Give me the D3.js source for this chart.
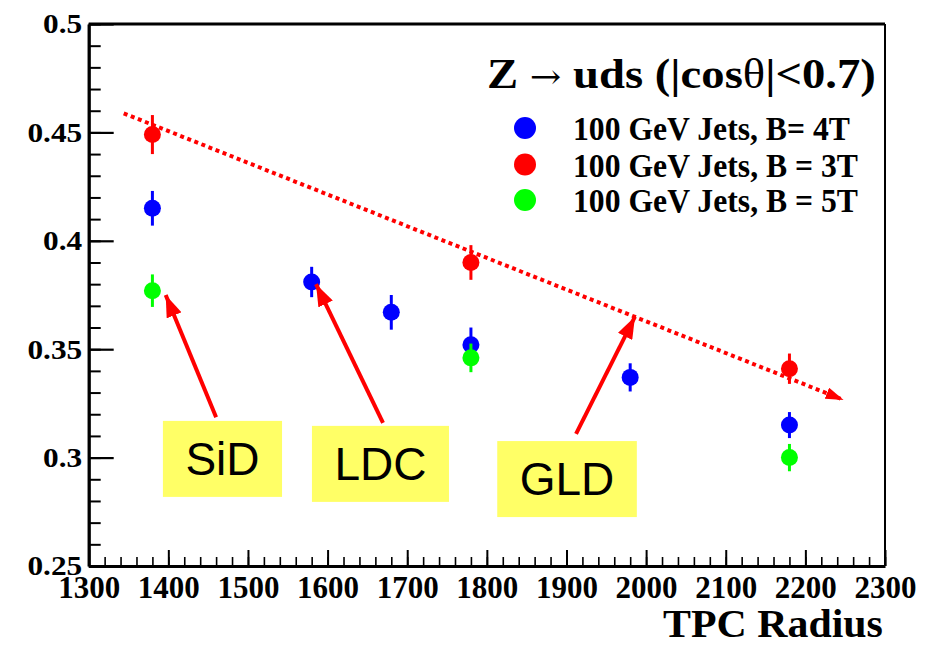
<!DOCTYPE html>
<html>
<head>
<meta charset="utf-8">
<script src="https://cdn.jsdelivr.net/npm/d3@7"></script>
<style>
  html, body { margin: 0; padding: 0; background: #fff; }
  svg { display: block; }
</style>
</head>
<body>
<svg id="chart" width="935" height="648"></svg>
<script>
// Jet energy resolution vs TPC radius, Z -> uds, |cos(theta)| < 0.7
const radius4T = [1380, 1580, 1680, 1780, 1980, 2180];
const res4T    = [0.415, 0.381, 0.367, 0.352, 0.337, 0.315];
const err4T    = [0.008, 0.007, 0.008, 0.008, 0.0065, 0.006];

const radius3T = [1380, 1780, 2180];
const res3T    = [0.449, 0.390, 0.341];
const err3T    = [0.009, 0.008, 0.007];

const radius5T = [1380, 1780, 2180];
const res5T    = [0.377, 0.346, 0.300];
const err5T    = [0.0075, 0.0066, 0.0063];

const seriesNames  = ["100 GeV Jets, B= 4T", "100 GeV Jets, B = 3T", "100 GeV Jets, B = 5T"];
const legendTitle  = ["Z ", "\u2192", " uds (|cos", "\u03b8", "|<0.7)"];

const xTickValues = [1300, 1400, 1500, 1600, 1700, 1800, 1900, 2000, 2100, 2200, 2300];
const xTickLabels = ["1300", "1400", "1500", "1600", "1700", "1800", "1900", "2000", "2100", "2200", "2300"];
const yTickValues = [0.25, 0.3, 0.35, 0.4, 0.45, 0.5];
const yTickLabels = ["0.25", "0.3", "0.35", "0.4", "0.45", "0.5"];
const xTitle = "TPC Radius";

// Trend line (radius, resolution) from start to arrow tip
const trendStart = [1344, 0.4588];
const trendEnd   = [2248, 0.3266];

// Detector annotations: arrow tip, arrow tail and label centre in data units
const detectorLabels = ["SiD", "LDC", "GLD"];
const arrowTips   = [[1396.7, 0.375], [1585.5, 0.380], [1986, 0.365]];
const arrowTails  = [[1460, 0.3186], [1669.6, 0.316], [1912, 0.3109]];
const labelCentre = [[1468, 0.2994], [1666.4, 0.2971], [1900.7, 0.2901]];

// ---------- layout ----------
const svg = d3.select("#chart");
const plot = { left: 88.7, right: 885, top: 24, bottom: 566 };
const x = d3.scaleLinear().domain([1300, 2300]).range([plot.left, plot.right]);
const y = d3.scaleLinear().domain([0.25, 0.5]).range([plot.bottom, plot.top]);

const serif = "'Liberation Serif', 'Times New Roman', serif";
const sans  = "'Liberation Sans', Arial, sans-serif";
const colors = ["#0000ff", "#ff0000", "#00ff00"];

// stretch helper: scales a text horizontally to a target width
function fitWidth(textSel, x0, y0, targetW, anchor) {
  textSel.attr("x", 0).attr("y", 0).attr("text-anchor", "start");
  const w = textSel.node().getComputedTextLength();
  const sx = targetW / w;
  const left = anchor === "end" ? x0 - targetW : anchor === "middle" ? x0 - targetW / 2 : x0;
  textSel.attr("transform", `translate(${left},${y0}) scale(${sx},1)`);
}

// frame (top and right)
svg.append("line").attr("x1", plot.left).attr("x2", plot.right)
  .attr("y1", plot.top).attr("y2", plot.top)
  .attr("stroke", "#000").attr("stroke-width", 3);
svg.append("line").attr("x1", plot.right).attr("x2", plot.right)
  .attr("y1", plot.top).attr("y2", plot.bottom)
  .attr("stroke", "#000").attr("stroke-width", 2);

// y axis: minor ticks every 0.01, major every 0.05
const yMinor = d3.range(0.25, 0.5001, 0.01).map(v => +v.toFixed(2));
svg.append("g").attr("transform", `translate(${plot.left},0)`)
  .call(d3.axisLeft(y).tickValues(yMinor).tickSize(-12).tickSizeOuter(0).tickFormat(""))
  .call(g => g.select(".domain").remove())
  .call(g => g.selectAll(".tick line").attr("stroke", "#000").attr("stroke-width", 2));

const yAxis = svg.append("g").attr("transform", `translate(${plot.left},0)`)
  .call(d3.axisLeft(y).tickValues(yTickValues).tickSize(-25).tickSizeOuter(0)
    .tickPadding(7).tickFormat((d, i) => yTickLabels[i]));
yAxis.select(".domain").attr("stroke", "#000").attr("stroke-width", 3.3);
yAxis.selectAll(".tick line").attr("stroke", "#000").attr("stroke-width", 2.2);
yAxis.selectAll(".tick text")
  .attr("font-family", serif).attr("font-weight", "bold").attr("font-size", 27)
  .attr("fill", "#000").attr("x", 0).attr("dy", "0.33em")
  .attr("transform", "translate(-6.5,0) scale(1.16,1)");

// x axis: minor ticks every 20, major every 100
const xMinor = d3.range(1300, 2301, 20);
svg.append("g").attr("transform", `translate(0,${plot.bottom})`)
  .call(d3.axisBottom(x).tickValues(xMinor).tickSize(-9).tickSizeOuter(0).tickFormat(""))
  .call(g => g.select(".domain").remove())
  .call(g => g.selectAll(".tick line").attr("stroke", "#000").attr("stroke-width", 1.6));

const xAxis = svg.append("g").attr("transform", `translate(0,${plot.bottom})`)
  .call(d3.axisBottom(x).tickValues(xTickValues).tickSize(-16).tickSizeOuter(0)
    .tickPadding(10).tickFormat((d, i) => xTickLabels[i]));
xAxis.select(".domain").attr("stroke", "#000").attr("stroke-width", 3);
xAxis.selectAll(".tick line").attr("stroke", "#000").attr("stroke-width", 2);
xAxis.selectAll(".tick text")
  .attr("font-family", serif).attr("font-weight", "bold").attr("font-size", 31)
  .attr("fill", "#000");

// axis title
fitWidth(svg.append("text").text(xTitle)
  .attr("font-family", serif).attr("font-weight", "bold").attr("font-size", 40)
  .attr("fill", "#000"), 883, 637, 220, "end");

// ---------- trend line with arrow ----------
const defs = svg.append("defs");
defs.append("marker").attr("id", "trendHead")
  .attr("viewBox", "0 0 18 12").attr("refX", 18).attr("refY", 6)
  .attr("markerWidth", 18).attr("markerHeight", 12)
  .attr("markerUnits", "userSpaceOnUse").attr("orient", "auto")
  .append("path").attr("d", "M0,0 L18,6 L0,12 Z").attr("fill", "#ff0000");
defs.append("marker").attr("id", "labelHead")
  .attr("viewBox", "0 0 22 16").attr("refX", 22).attr("refY", 8)
  .attr("markerWidth", 22).attr("markerHeight", 16)
  .attr("markerUnits", "userSpaceOnUse").attr("orient", "auto")
  .append("path").attr("d", "M0,0 L22,8 L0,16 Z").attr("fill", "#ff0000");

// ---------- data points ----------
const series = [
  { r: radius4T, v: res4T, e: err4T, color: colors[0] },
  { r: radius3T, v: res3T, e: err3T, color: colors[1] },
  { r: radius5T, v: res5T, e: err5T, color: colors[2] }
];
series.forEach(s => {
  const pts = s.r.map((r, i) => ({ r, v: s.v[i], e: s.e[i] }));
  const g = svg.append("g");
  g.selectAll("line").data(pts).join("line")
    .attr("x1", d => x(d.r)).attr("x2", d => x(d.r))
    .attr("y1", d => y(d.v - d.e)).attr("y2", d => y(d.v + d.e))
    .attr("stroke", s.color).attr("stroke-width", 3);
  g.selectAll("circle").data(pts).join("circle")
    .attr("cx", d => x(d.r)).attr("cy", d => y(d.v)).attr("r", 8.5)
    .attr("fill", s.color);
});

// dotted trend line
svg.append("line")
  .attr("x1", x(trendStart[0])).attr("y1", y(trendStart[1]))
  .attr("x2", x(trendEnd[0])).attr("y2", y(trendEnd[1]))
  .attr("stroke", "#ff0000").attr("stroke-width", 4)
  .attr("stroke-dasharray", "4 3.6")
  .attr("marker-end", "url(#trendHead)");

// ---------- detector annotations ----------
detectorLabels.forEach((lab, i) => {
  svg.append("line")
    .attr("x1", x(arrowTails[i][0])).attr("y1", y(arrowTails[i][1]))
    .attr("x2", x(arrowTips[i][0])).attr("y2", y(arrowTips[i][1]))
    .attr("stroke", "#ff0000").attr("stroke-width", 4)
    .attr("marker-end", "url(#labelHead)");
  const cx = x(labelCentre[i][0]), cy = y(labelCentre[i][1]);
  const rect = svg.append("rect").attr("fill", "#ffff66");
  const t = svg.append("text").text(lab)
    .attr("x", cx).attr("y", cy).attr("dy", "0.35em")
    .attr("text-anchor", "middle")
    .attr("font-family", sans).attr("font-size", 46).attr("fill", "#000");
  const w = t.node().getComputedTextLength() + 45, h = 76;
  rect.attr("x", cx - w / 2).attr("y", cy - h / 2).attr("width", w).attr("height", h);
});

// ---------- legend ----------
const title = svg.append("text")
  .attr("font-family", serif).attr("font-size", 42).attr("fill", "#000");
legendTitle.forEach((part, i) => {
  title.append("tspan").text(part)
    .attr("font-weight", (i === 1 || i === 3) ? "normal" : "bold")
    .attr("font-family", i === 1 ? "'DejaVu Serif', serif" : serif)
    .attr("font-size", i === 1 ? 34 : 42);
});
fitWidth(title, 487, 88, 389, "start");

const legendRowY = [128, 164.5, 200];
const legendTextW = [277, 285, 285];
seriesNames.forEach((name, i) => {
  svg.append("circle").attr("cx", 525).attr("cy", legendRowY[i]).attr("r", 11)
    .attr("fill", colors[i]);
  fitWidth(svg.append("text").text(name)
    .attr("font-family", serif).attr("font-weight", "bold").attr("font-size", 34)
    .attr("fill", "#000"), 573, legendRowY[i] + 12, legendTextW[i], "start");
});
</script>
</body>
</html>
